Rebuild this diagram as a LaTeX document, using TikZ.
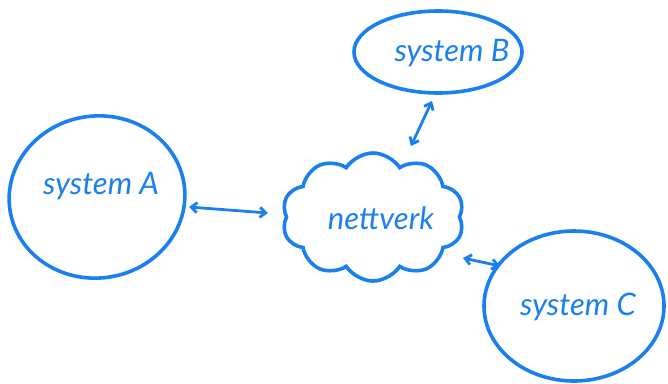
\documentclass[tikz,border=0pt]{standalone}
\usepackage{fontspec}
\setmainfont{Lato}
\usetikzlibrary{shapes.geometric,shapes.symbols,arrows.meta}
\definecolor{ink}{HTML}{1A80F0}
\tikzset{
  sys/.style={draw=ink, line width=3.6pt, ellipse, inner sep=0pt},
  net/.style={draw=ink, line width=3.6pt, cloud, cloud puffs=10, cloud puff arc=115, aspect=1.4, inner sep=0pt},
  lbl/.style={text=ink, font=\itshape\fontsize{31}{34}\selectfont},
  link/.style={draw=ink, line width=2.8pt, line cap=round, {Straight Barb[length=6pt,width=10pt]}-{Straight Barb[length=6pt,width=10pt]}}
}
\begin{document}
\begin{tikzpicture}[x=1pt,y=-1pt]
  \useasboundingbox (0,0) rectangle (668,383);
  % the three systems
  \node[sys, minimum width=176pt, minimum height=162pt, rotate=8] (A) at (97,197) {};
  \node[sys, minimum width=168pt, minimum height=82pt] (B) at (438,52) {};
  \node[sys, minimum width=180pt, minimum height=150pt] (C) at (574,306) {};
  % the network between them
  \node[net, minimum width=182pt, minimum height=128pt] (N) at (373,217) {};
  % labels
  \node[lbl] (tA) at (101,186) {system A};
  \node[lbl] (tB) at (452,53) {system B};
  \node[lbl] (tC) at (578,307) {system C};
  \node[lbl] (tN) at (381,218) {nettverk};
  % connections
  \coordinate (a1) at (189,207);
  \coordinate (a2) at (268,213);
  \coordinate (b1) at (432,101);
  \coordinate (b2) at (411,146);
  \coordinate (c1) at (463,258);
  \coordinate (c2) at (500,266);
  \draw[link] (a1) -- (a2);
  \draw[link] (b1) -- (b2);
  \draw[link] (c1) -- (c2);
\end{tikzpicture}
\end{document}
